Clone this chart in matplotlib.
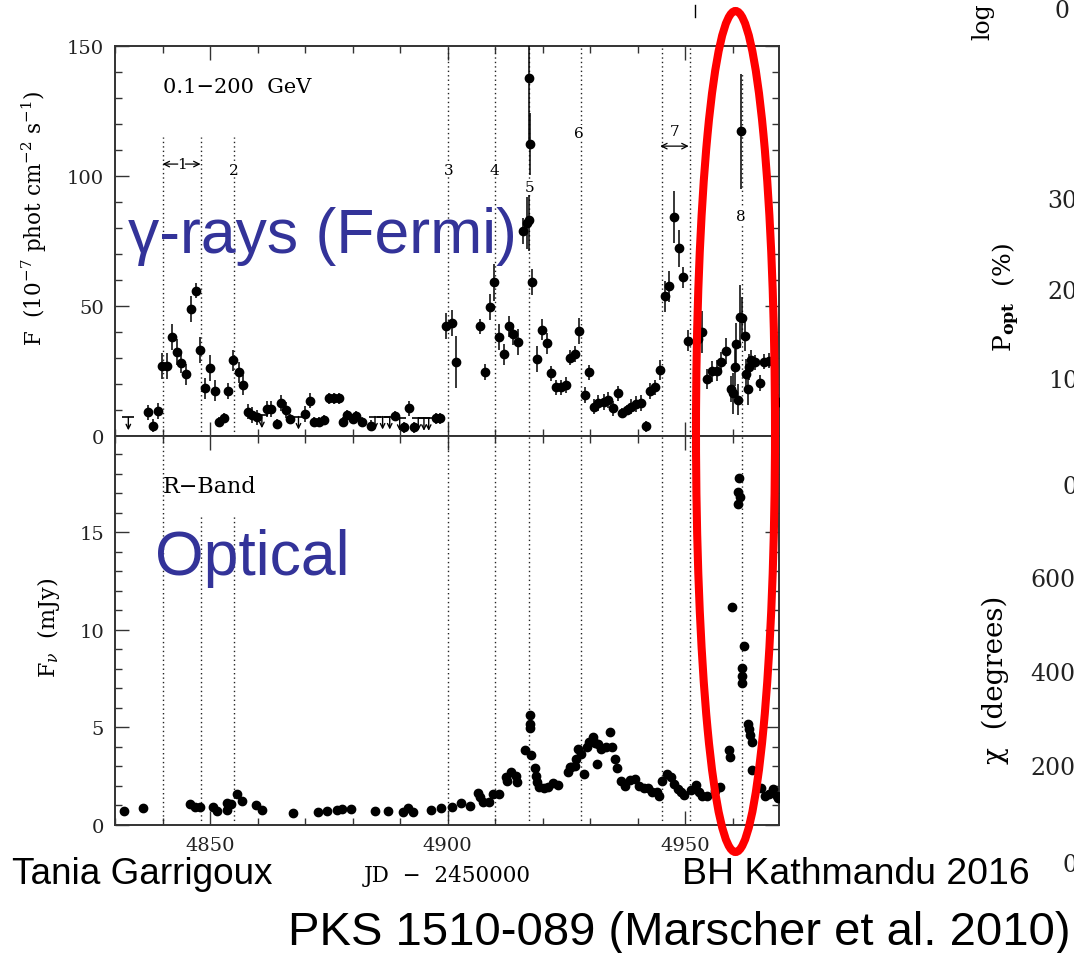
import matplotlib.pyplot as plt
from matplotlib.patches import Ellipse
from matplotlib.ticker import MultipleLocator

plt.rcParams['font.family'] = ['DejaVu Serif']
plt.rcParams['mathtext.fontset'] = 'dejavuserif'

# gamma-ray light curve, 0.1-200 GeV (10^-7 phot cm^-2 s^-1)
gamma_jd = [4837.0, 4838.0, 4839.1, 4839.8, 4841.0, 4842.0, 4843.0, 4843.9, 4845.0, 4845.9,
            4847.0, 4847.9, 4849.0, 4849.9, 4851.0, 4851.9, 4852.9, 4853.8, 4854.9, 4856.1,
            4857.0, 4857.9, 4858.9, 4859.8, 4861.9, 4862.9, 4864.0, 4864.9, 4865.9, 4866.9,
            4870.0, 4871.0, 4871.8, 4872.9, 4874.0, 4875.0, 4876.1, 4877.1, 4878.0, 4878.8,
            4880.0, 4880.8, 4881.9, 4883.8, 4888.9, 4890.8, 4891.9, 4892.9, 4897.6, 4898.4,
            4899.7, 4900.8, 4901.8, 4906.7, 4907.8, 4908.8, 4909.7, 4910.8, 4911.8, 4912.8,
            4913.7, 4914.8, 4915.8, 4916.7, 4917.0, 4917.2, 4917.4, 4917.8, 4918.8, 4919.8,
            4920.9, 4921.8, 4922.8, 4923.9, 4924.8, 4925.8, 4926.8, 4927.7, 4928.8, 4929.8,
            4930.7, 4931.7, 4932.8, 4933.8, 4934.7, 4935.8, 4936.7, 4937.7, 4938.6, 4939.6,
            4940.7, 4941.7, 4942.6, 4943.6, 4944.7, 4945.7, 4946.6, 4947.7, 4948.6, 4949.6,
            4950.6, 4952.6, 4953.6, 4954.5, 4955.6, 4956.6, 4957.6, 4958.5, 4959.6, 4960.1,
            4960.5, 4960.7, 4961.1, 4961.4, 4961.8, 4962.0, 4962.5, 4962.7, 4963.1, 4963.4,
            4963.8, 4964.7, 4965.7, 4966.6, 4967.5, 4969.7]
gamma_flux = [9.1, 4.0, 9.7, 26.8, 26.8, 38.2, 32.2, 28.1, 23.8, 48.8,
              55.9, 33.2, 18.3, 26.2, 17.4, 5.5, 6.9, 17.4, 29.2, 24.5,
              19.6, 9.4, 8.1, 7.2, 10.4, 10.4, 4.6, 12.6, 10.0, 6.5,
              8.5, 13.6, 5.3, 5.3, 6.2, 14.5, 14.5, 14.5, 5.3, 8.1,
              6.5, 7.8, 5.3, 4.0, 7.8, 3.3, 10.6, 3.3, 6.8, 6.8,
              42.4, 43.3, 28.6, 42.2, 24.7, 49.5, 59.1, 38.2, 31.5, 42.2,
              39.2, 36.3, 79.0, 81.9, 83.1, 137.6, 112.3, 59.3, 29.6, 40.9,
              35.7, 24.1, 18.7, 18.7, 19.7, 30.2, 31.5, 40.3, 15.8, 24.5,
              11.3, 12.6, 13.0, 13.8, 10.6, 16.4, 8.8, 10.1, 11.3, 12.3,
              12.6, 3.7, 17.4, 18.7, 25.4, 53.7, 57.6, 84.1, 72.2, 61.0,
              36.7, 37.3, 39.9, 21.9, 24.9, 25.1, 28.3, 32.8, 18.1, 16.4,
              26.4, 35.4, 14.0, 45.9, 117.2, 45.3, 38.6, 23.8, 18.1, 26.4,
              29.2, 28.3, 20.4, 28.6, 29.0, 13.0]
gamma_err = [3, 2.5, 3, 5, 5, 5, 5, 4, 4, 5,
             3, 5, 4, 5, 4, 2, 2, 3, 4, 4,
             4, 3, 3, 3, 3, 3, 2, 3, 3, 2,
             3, 3, 2, 2, 2, 2, 2, 2, 2, 2,
             2, 2, 2, 2, 2, 2, 3, 2, 2, 2,
             5, 5, 10, 3, 3, 5, 7, 5, 4, 4,
             4, 5, 5, 10, 12, 25, 12, 5, 5, 4,
             4, 3, 3, 3, 3, 3, 3, 5, 3, 3,
             3, 3, 3, 3, 3, 3, 2, 2, 3, 3,
             3, 2, 3, 3, 4, 6, 6, 10, 7, 4,
             4, 4, 8, 4, 4, 4, 4, 5, 5, 8,
             7, 8, 6, 12, 22, 8, 6, 6, 6, 5,
             4, 3, 3, 3, 3, 3]

# gamma-ray upper limits
ul_jd = [4832.8, 4860.9, 4868.6, 4884.7, 4886.3, 4887.8, 4889.9, 4893.8, 4895.0, 4896.0]
ul_flux = [7.2, 8.0, 7.5, 7.5, 7.5, 7.5, 7.0, 7.0, 7.0, 7.0]

# optical R-band light curve (mJy)
opt_jd = [4831.8, 4835.8, 4845.8, 4846.8, 4847.8, 4850.7, 4851.5, 4853.5, 4853.6, 4854.5,
          4855.6, 4856.8, 4859.7, 4860.9, 4867.5, 4872.8, 4874.5, 4876.8, 4877.7, 4879.6,
          4884.7, 4887.5, 4890.6, 4891.7, 4892.6, 4896.4, 4898.5, 4900.8, 4902.7, 4904.6,
          4906.4, 4906.7, 4907.4, 4908.6, 4909.5, 4910.8, 4912.3, 4912.5, 4913.4, 4914.4,
          4914.5, 4916.3, 4917.4, 4917.4, 4917.4, 4917.6, 4918.3, 4918.5, 4918.8, 4919.3,
          4920.2, 4921.1, 4922.1, 4923.2, 4925.3, 4925.8, 4926.0, 4926.7, 4927.0, 4927.4,
          4928.1, 4928.6, 4929.3, 4929.8, 4930.5, 4930.9, 4931.4, 4931.6, 4932.3, 4933.3,
          4934.2, 4934.5, 4935.2, 4935.6, 4936.5, 4937.4, 4938.4, 4939.4, 4940.3, 4941.2,
          4942.1, 4943.0, 4944.0, 4944.4, 4945.1, 4946.1, 4947.0, 4947.6, 4948.4, 4949.1,
          4949.8, 4951.2, 4952.3, 4952.8, 4953.6, 4954.6, 4956.2, 4957.3, 4959.1, 4959.4,
          4959.9, 4961.2, 4961.1, 4961.5, 4961.1, 4962.4, 4961.9, 4962.0, 4962.0, 4963.1,
          4963.3, 4963.6, 4964.0, 4964.0, 4965.9, 4966.8, 4967.6, 4968.5, 4969.2, 4969.6]
opt_flux = [0.73, 0.85, 1.08, 0.94, 0.91, 0.94, 0.73, 1.13, 0.77, 1.08,
            1.59, 1.25, 1.03, 0.79, 0.62, 0.65, 0.73, 0.79, 0.80, 0.82,
            0.73, 0.73, 0.68, 0.85, 0.68, 0.77, 0.85, 0.94, 1.11, 0.99,
            1.64, 1.42, 1.20, 1.20, 1.59, 1.59, 2.44, 2.27, 2.70, 2.53,
            2.19, 3.86, 5.64, 5.18, 4.96, 3.61, 2.91, 2.53, 2.22, 1.93,
            1.88, 1.97, 2.14, 2.05, 2.70, 2.96, 2.99, 3.04, 3.38, 3.90,
            3.64, 2.62, 3.98, 4.24, 4.50, 4.21, 3.13, 4.15, 3.90, 3.98,
            4.79, 3.98, 3.38, 2.91, 2.24, 1.98, 2.31, 2.36, 2.02, 1.88,
            1.88, 1.71, 1.68, 1.50, 2.27, 2.62, 2.44, 2.10, 1.85, 1.68,
            1.54, 1.81, 2.05, 1.68, 1.50, 1.50, 1.76, 1.93, 3.86, 3.47,
            11.16, 17.78, 17.09, 16.80, 16.46, 9.20, 8.04, 7.63, 7.28, 5.18,
            4.92, 4.62, 4.24, 2.84, 1.88, 1.50, 1.59, 1.85, 1.50, 1.37]

# flare epochs (dotted lines) and how high they reach in each panel
flare_jd = [4840, 4848, 4855, 4900, 4910, 4917, 4928, 4945, 4951, 4962]
flare_top_gamma = [115, 115, 115, 150, 150, 150, 150, 150, 150, 140]
flare_top_opt = [20, 15.85, 15.85, 20, 20, 20, 20, 20, 20, 20]

# flare numbers: label, jd, height in gamma panel
flare_labels = ['2', '3', '4', '5', '6', '8']
flare_label_jd = [4855.0, 4900.2, 4909.8, 4917.2, 4927.7, 4961.6]
flare_label_y = [102.5, 102.5, 102.5, 95.8, 116.5, 84.6]

fig = plt.figure(figsize=(10.74, 9.54), dpi=100)
ax_g = fig.add_axes([0.1071, 0.5419, 0.6182, 0.4088])
ax_o = fig.add_axes([0.1071, 0.1342, 0.6182, 0.4078], sharex=ax_g)


def style_axes(ax):
    ax.tick_params(which='both', direction='in', top=True, right=True,
                   labelsize=14, color='#333333', labelcolor='#222222')
    ax.tick_params(which='major', length=10, width=1, pad=8)
    ax.tick_params(which='minor', length=5, width=1)
    for spine in ax.spines.values():
        spine.set_linewidth(1.4)
        spine.set_color('#333333')
    ax.xaxis.set_major_locator(MultipleLocator(50))
    ax.xaxis.set_minor_locator(MultipleLocator(10))


dot_style = dict(color='#222222', linestyle=(0, (1, 2.2)), linewidth=1.0)

# top panel: gamma rays
style_axes(ax_g)
ax_g.vlines(flare_jd, 0, flare_top_gamma, **dot_style)
ax_g.errorbar(gamma_jd, gamma_flux, yerr=gamma_err, fmt='o', ms=6, color='black',
              elinewidth=1.1, capsize=0, zorder=3)
ax_g.plot(ul_jd, ul_flux, '_', ms=9, mew=1.2, color='black')
for x, y in zip(ul_jd, ul_flux):
    ax_g.annotate('', xy=(x, y - 5), xytext=(x, y),
                  arrowprops=dict(arrowstyle='->', lw=1.0, color='black',
                                  shrinkA=0, shrinkB=0, mutation_scale=8))
ax_g.set_xlim(4830, 4969.7)
ax_g.set_ylim(0, 150)
ax_g.set_yticks([0, 50, 100, 150])
ax_g.yaxis.set_minor_locator(MultipleLocator(10))
ax_g.tick_params(labelbottom=False)
ax_g.set_ylabel(r'F  (10$^{-7}$ phot cm$^{-2}$ s$^{-1}$)', fontsize=15.5)
ax_g.yaxis.set_label_coords(-0.1, 0.56)
ax_g.text(4840.1, 134.6, '0.1\u2212200  GeV', fontsize=15, va='center', ha='left')

# flare labels
for lab, x, y in zip(flare_labels, flare_label_jd, flare_label_y):
    ax_g.text(x, y, lab, fontsize=11, ha='center', va='center',
              bbox=dict(facecolor='white', edgecolor='none', pad=0.5))
ax_g.text(4844.0, 104.6, '1', fontsize=11, ha='center', va='center')
ax_g.annotate('', xy=(4840, 104.6), xytext=(4843.2, 104.6),
              arrowprops=dict(arrowstyle='->', lw=0.9, shrinkA=0, shrinkB=0))
ax_g.annotate('', xy=(4848, 104.6), xytext=(4844.8, 104.6),
              arrowprops=dict(arrowstyle='->', lw=0.9, shrinkA=0, shrinkB=0))
ax_g.text(4947.7, 117.5, '7', fontsize=11, ha='center', va='center')
ax_g.annotate('', xy=(4944.7, 111.5), xytext=(4950.7, 111.5),
              arrowprops=dict(arrowstyle='<->', lw=0.9, shrinkA=0, shrinkB=0))

# bottom panel: optical
style_axes(ax_o)
ax_o.vlines(flare_jd, 0, flare_top_opt, **dot_style)
ax_o.plot(opt_jd, opt_flux, 'o', ms=6, color='black', zorder=3)
ax_o.set_ylim(0, 19.95)
ax_o.set_yticks([0, 5, 10, 15])
ax_o.yaxis.set_minor_locator(MultipleLocator(1))
ax_o.set_ylabel(r'F$_\nu$  (mJy)', fontsize=16)
ax_o.yaxis.set_label_coords(-0.08, 0.51)
ax_o.set_xlabel('JD  \u2212  2450000', fontsize=15.5)
ax_o.xaxis.set_label_coords(0.5, -0.1)
ax_o.text(4840.1, 17.4, 'R\u2212Band', fontsize=16, va='center', ha='left')

# slide overlay in pixel coordinates
ov = fig.add_axes([0, 0, 1, 1], zorder=10)
ov.set_xlim(0, 1074)
ov.set_ylim(954, 0)
ov.axis('off')
ov.patch.set_alpha(0)

ov.add_patch(Ellipse((735.5, 432.5), 79, 841, fill=False, edgecolor='#ff0000', linewidth=5.8))
ov.plot([695, 695], [6, 18], color='black', lw=1)

sans = 'Liberation Sans'
ov.text(128, 253, '\u03b3-rays (Fermi)', fontsize=45, color='#333399', family=sans, va='baseline')
ov.text(155, 575, 'Optical', fontsize=45, color='#333399', family=sans, va='baseline')
ov.text(12, 884, 'Tania Garrigoux', fontsize=26.6, family=sans, va='baseline')
ov.text(682, 884, 'BH Kathmandu 2016', fontsize=26.9, family=sans, va='baseline')
ov.text(1071, 945, 'PKS 1510-089 (Marscher et al. 2010)', fontsize=34, family=sans,
        va='baseline', ha='right')

# cropped neighbouring panel labels on the right edge
ov.text(983, 40, 'log', rotation=90, fontsize=17, ha='center', va='bottom')
ov.text(1006, 298, r'P$_{\mathbf{opt}}$  (%)', rotation=90, fontsize=18, ha='center', va='center')
ov.text(995, 680, '\u03c7  (degrees)', rotation=90, fontsize=20, ha='center', va='center')
for lab, x, y in [('0', 1055, 12), ('30', 1047, 201), ('20', 1047, 293), ('10', 1048, 382),
                  ('0', 1063, 488), ('600', 1030, 581), ('400', 1030, 675),
                  ('200', 1030, 769), ('0', 1063, 866)]:
    ov.text(x, y, lab, fontsize=17, ha='left', va='center', color='#222222')

fig.savefig('out.png', dpi=100)
